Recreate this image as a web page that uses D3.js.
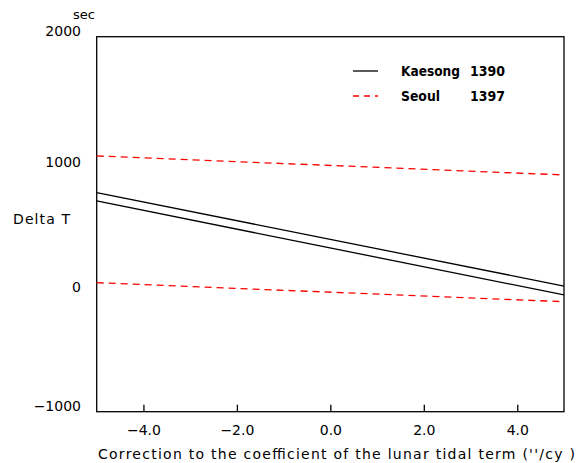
<!DOCTYPE html>
<html><head><meta charset="utf-8">
<script src="https://cdn.jsdelivr.net/npm/d3@7"></script>
<style>body{margin:0;background:#fff}svg{display:block}text{font-family:"DejaVu Sans",sans-serif;fill:#000}</style>
</head><body>
<script>
const xEnds = [-5, 5];
const kaesongUpper = [752, 5];
const kaesongLower = [686, -66];
const seoulUpper = [1046, 894];
const seoulLower = [32, -120];
const xTicks = [-4, -2, 0, 2, 4];
const yTicks = [2000, 1000, 0, -1000];
const legendNames = ["Kaesong", "Seoul"];
const legendYears = ["1390", "1397"];

const W = 577, H = 463;
const svg = d3.select("body").append("svg").attr("width", W).attr("height", H);
const L = 96.7, R = 564, T = 36.7, B = 411.7;
const x = d3.scaleLinear().domain([-5, 5]).range([L, R]);
const y = d3.scaleLinear().domain([-1000, 2000]).range([B, T]);

// frame
svg.append("rect").attr("x", L).attr("y", T).attr("width", R - L).attr("height", B - T)
  .attr("fill", "none").attr("stroke", "#000").attr("stroke-width", 1.3);

// x ticks inward
const xa = svg.append("g").attr("transform", `translate(0,${B})`)
  .call(d3.axisBottom(x).tickValues(xTicks).tickSizeInner(-7).tickSizeOuter(0).tickPadding(13)
    .tickFormat(d => d3.format(".1f")(d).replace("-", "\u2212")));
xa.select(".domain").remove();
xa.selectAll("line").attr("stroke-width", 1.3);
xa.selectAll("text").attr("font-size", 14).attr("font-family", "DejaVu Sans");

// y labels
const yl = svg.append("g");
yTicks.forEach(v => {
  let yy = y(v);
  let dy = "0.35em";
  if (v === 2000) { dy = "-0.05em"; }
  if (v === -1000) { dy = "-0.05em"; }
  yl.append("text").attr("x", 81).attr("y", yy).attr("dy", dy).attr("text-anchor", "end")
    .attr("font-size", 14).text(String(v).replace("-", "\u2212"));
});
svg.append("text").attr("x", 84).attr("y", 19).attr("text-anchor", "middle").attr("font-size", 13).text("sec");
svg.append("text").attr("x", 13).attr("y", 224).attr("font-size", 14)
  .attr("textLength", 57).attr("lengthAdjust", "spacing").text("Delta T");
svg.append("text").attr("x", 98).attr("y", 459).attr("font-size", 14)
  .attr("textLength", 477).attr("lengthAdjust", "spacing")
  .text("Correction to the coefficient of the lunar tidal term (''/cy )");

const line = d3.line().x(d => x(d[0])).y(d => y(d[1]));
const series = [
  {v: kaesongUpper, c: "#000", dash: null},
  {v: kaesongLower, c: "#000", dash: null},
  {v: seoulUpper, c: "#ff0000", dash: "7,5"},
  {v: seoulLower, c: "#ff0000", dash: "7,5"}
];
series.forEach(s => {
  svg.append("path").datum(xEnds.map((xv, i) => [xv, s.v[i]])).attr("d", line)
    .attr("fill", "none").attr("stroke", s.c).attr("stroke-width", 1.3)
    .attr("stroke-dasharray", s.dash);
});

// legend
const lg = svg.append("g");
const lc = [{c: "#000", dash: null}, {c: "#ff0000", dash: "6,5"}];
const nameLen = [59, 39];
legendNames.forEach((n, i) => {
  const ly = 71 + i * 25;
  lg.append("line").attr("x1", 353).attr("x2", 378).attr("y1", ly).attr("y2", ly)
    .attr("stroke", lc[i].c).attr("stroke-width", 1.3).attr("stroke-dasharray", lc[i].dash);
  lg.append("text").attr("x", 401).attr("y", ly).attr("dy", "0.35em").attr("font-size", 14).attr("font-weight", "bold")
    .attr("textLength", nameLen[i]).attr("lengthAdjust", "spacingAndGlyphs").text(n);
  lg.append("text").attr("x", 470).attr("y", ly).attr("dy", "0.35em").attr("font-size", 14).attr("font-weight", "bold")
    .attr("textLength", 35).attr("lengthAdjust", "spacingAndGlyphs").text(legendYears[i]);
});
</script>
</body></html>
